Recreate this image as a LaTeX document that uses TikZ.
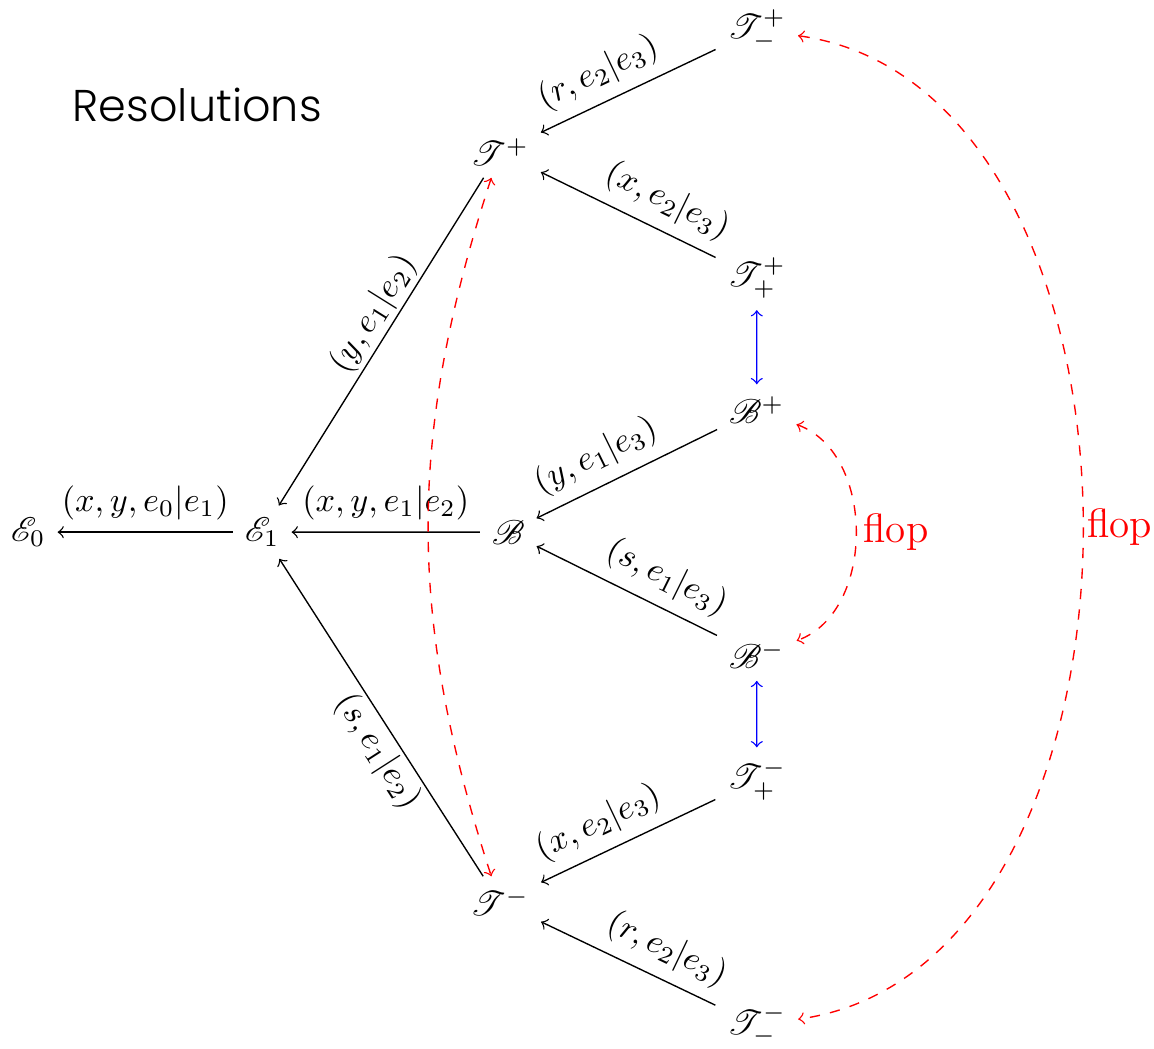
\documentclass[tikz,border=0pt]{standalone}
\usepackage{fontspec}
\usepackage{mathrsfs}
\newfontfamily\resfont[UprightFont=* Light]{Poppins}
\begin{document}
\begin{tikzpicture}[
    scale=0.877,
    map/.style={->},
    lbl/.style={above, sloped},
    flipar/.style={<->, blue},
    flopar/.style={<->, red, dashed},
  ]
  \useasboundingbox (0,0) rectangle (13.51,12.27);
  \node (res) at (2.31,11.04) {\resfont\fontsize{13}{16}\selectfont Resolutions};
  % left part
  \node (e0) at (0.33,6.04) {$\mathscr{E}_0$};
  \node (e1) at (3.07,6.04) {$\mathscr{E}_1$};
  \node (b) at (5.95,6.04) {$\mathscr{B}$};
  \node (tp) at (5.85,10.49) {$\mathscr{T}^+$};
  \node (tm) at (5.85,1.71) {$\mathscr{T}^-$};
  % right column
  \node (tpm) at (8.86,11.92) {$\mathscr{T}^+_-$};
  \node (tpp) at (8.86,9.02) {$\mathscr{T}^+_+$};
  \node (bp) at (8.86,7.47) {$\mathscr{B}^+$};
  \node (bm) at (8.86,4.60) {$\mathscr{B}^-$};
  \node (tmp) at (8.86,3.14) {$\mathscr{T}^-_+$};
  \node (tmm) at (8.86,0.27) {$\mathscr{T}^-_-$};

  \draw[map] (e1) -- node[lbl] {$(x,y,e_0|e_1)$} (e0);
  \draw[map] (b) -- node[lbl] {$(x,y,e_1|e_2)$} (e1);
  \draw[map] (tp) -- node[lbl, pos=0.45, inner sep=1pt] {$(y,e_1|e_2)$} (e1);
  \draw[map] (tm) -- node[below, sloped, pos=0.43, inner sep=1pt] {$(s,e_1|e_2)$} (e1);
  \draw[map] (tpm) -- node[lbl, pos=0.6] {$(r,e_2|e_3)$} (tp);
  \draw[map] (tpp) -- node[lbl, pos=0.35] {$(x,e_2|e_3)$} (tp);
  \draw[map] (bp) -- node[lbl, pos=0.6] {$(y,e_1|e_3)$} (b);
  \draw[map] (bm) -- node[lbl, pos=0.35] {$(s,e_1|e_3)$} (b);
  \draw[map] (tmp) -- node[lbl, pos=0.6] {$(x,e_2|e_3)$} (tm);
  \draw[map] (tmm) -- node[lbl, pos=0.35] {$(r,e_2|e_3)$} (tm);

  \draw[flipar] (tpp) -- (bp);
  \draw[flipar] (bm) -- (tmp);

  % flops
  \draw[flopar] (tp) to[bend right=18] (tm);
  \draw[flopar] (bp) to[bend left=70] node[right, inner sep=2pt] {\large flop} (bm);
  \draw[flopar] (tpm) to[bend left=82] node[right, inner sep=1pt] {\large flop} (tmm);
\end{tikzpicture}
\end{document}
